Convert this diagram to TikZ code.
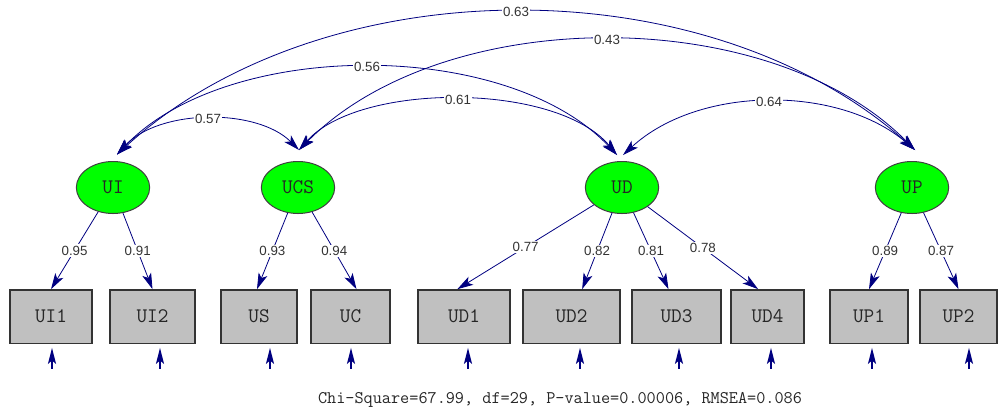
\documentclass[tikz,border=0pt]{standalone}
\usepackage{fontspec}
\setmainfont{Liberation Sans}
\usetikzlibrary{arrows.meta,calc,shapes.geometric}
\definecolor{semblue}{RGB}{0,0,128}
\definecolor{latgreen}{RGB}{0,255,0}
\definecolor{obsgray}{RGB}{192,192,192}

\begin{document}
\begin{tikzpicture}[x=0.75pt, y=-0.75pt,
	latent/.style={ellipse, fill=latgreen, draw=black!75, line width=0.75pt, minimum width=55pt, minimum height=39pt, inner sep=0pt, text=black!85, font=\ttfamily\fontsize{15.5}{15.5}\selectfont},
	observed/.style={rectangle, fill=obsgray, draw=black!80, line width=1pt, minimum width=#1*0.75pt, minimum height=40pt, inner sep=0pt, text=black!85, font=\ttfamily\fontsize{15.5}{15.5}\selectfont},
	lbl/.style={fill=white, inner sep=1pt, text=black!80, font=\fontsize{10}{10}\selectfont},
	load/.style={semblue, line width=0.6pt, -{Stealth[length=12pt, width=7pt, inset=3pt]}},
	cov/.style={semblue, line width=0.6pt, {Stealth[length=12pt, width=7pt, inset=3pt]}-{Stealth[length=12pt, width=7pt, inset=3pt]}},
	err/.style={semblue, line width=1.3pt, -{Stealth[length=12pt, width=6pt, inset=2.5pt]}}]
	\useasboundingbox (0,0) rectangle (998,412);

	% latent variables
	\node[latent](UI) at (113,187.5){UI};
	\node[latent](UCS) at (298,187.5){UCS};
	\node[latent](UD) at (622,187.5){UD};
	\node[latent](UP) at (912,187.5){UP};

	% observed variables
	\node[observed=82](UI1) at (51,316.5){UI1};
	\node[observed=85](UI2) at (152.5,316.5){UI2};
	\node[observed=76](US) at (259,316.5){US};
	\node[observed=79](UC) at (350.5,316.5){UC};
	\node[observed=92](UD1) at (464,316.5){UD1};
	\node[observed=97](UD2) at (571.5,316.5){UD2};
	\node[observed=89](UD3) at (676.5,316.5){UD3};
	\node[observed=73](UD4) at (767.5,316.5){UD4};
	\node[observed=78](UP1) at (869,316.5){UP1};
	\node[observed=77](UP2) at (958.5,316.5){UP2};

	% ends of the covariance arcs
	\coordinate (UI-c) at ($(UI.north)+(4,-6.5)$);
	\coordinate (UCS-c) at ($(UCS.north)+(1,-11)$);
	\coordinate (UD-ca) at ($(UD.north)+(-5,-6)$);
	\coordinate (UD-cb) at ($(UD.north)+(1,-6)$);
	\coordinate (UP-c) at ($(UP.north)+(3,-11)$);

	% loadings
	\draw[load] (UI) -- node[lbl]{0.95} (UI1.north);
	\draw[load] (UI) -- node[lbl]{0.91} (UI2.north);
	\draw[load] (UCS) -- node[lbl]{0.93} ([xshift=-1.5pt]US.north);
	\draw[load] (UCS) -- node[lbl]{0.94} ([xshift=4.5pt]UC.north);
	\draw[load] (UD) -- node[lbl]{0.77} ([xshift=-5pt]UD1.north);
	\draw[load] (UD) -- node[lbl]{0.82} ([xshift=8pt]UD2.north);
	\draw[load] (UD) -- node[lbl]{0.81} ([xshift=-6pt]UD3.north);
	\draw[load] (UD) -- node[lbl]{0.78} ([xshift=-7pt]UD4.north);
	\draw[load] (UP) -- node[lbl]{0.89} (UP1.north);
	\draw[load] (UP) -- node[lbl]{0.87} (UP2.north);

	% covariances
	\draw[cov] (UI-c) .. controls ($(UI-c)+(42,-46)$) and ($(UCS-c)+(-42,-42)$) .. node[lbl]{0.57} (UCS-c);
	\draw[cov] (UCS-c) .. controls ($(UCS-c)+(60,-68)$) and ($(UD-ca)+(-60,-73)$) .. node[lbl]{0.61} (UD-ca);
	\draw[cov] (UI-c) .. controls ($(UI-c)+(110,-116)$) and ($(UD-ca)+(-110,-117)$) .. node[lbl]{0.56} (UD-ca);
	\draw[cov] (UCS-c) .. controls ($(UCS-c)+(145,-147)$) and ($(UP-c)+(-145,-147)$) .. node[lbl]{0.43} (UP-c);
	\draw[cov] (UI-c) .. controls ($(UI-c)+(207,-189)$) and ($(UP-c)+(-207,-185)$) .. node[lbl]{0.63} (UP-c);
	\draw[cov] (UD-cb) .. controls ($(UD-cb)+(76,-70)$) and ($(UP-c)+(-76,-65)$) .. node[lbl]{0.64} (UP-c);

	% error terms
	\foreach \b/\dx in {UI1/1, UI2/7.5, US/11, UC/0.5, UD1/4, UD2/8.5, UD3/2.5, UD4/3.5, UP1/3, UP2/10.5}
		\draw[err] ($(\b.south)+(\dx,25)$) -- ($(\b.south)+(\dx,4)$);

	\node[font=\ttfamily\fontsize{13.3}{13.3}\selectfont, text=black!85](fit) at (560,400){Chi-Square=67.99, df=29, P-value=0.00006, RMSEA=0.086};
\end{tikzpicture}
\end{document}
